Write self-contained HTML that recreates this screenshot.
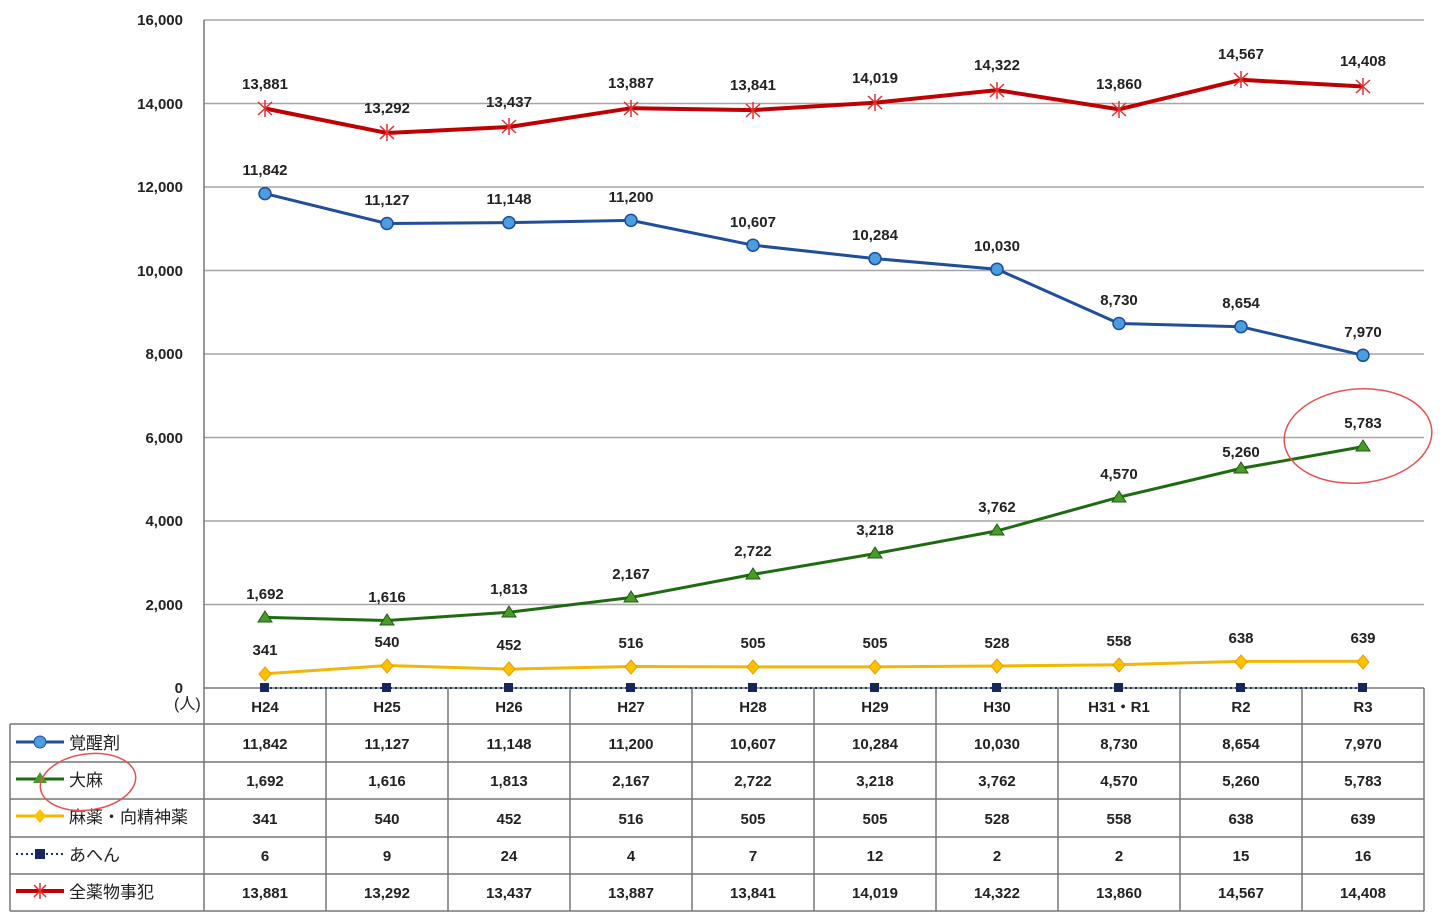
<!DOCTYPE html>
<html><head><meta charset="utf-8"><style>
body{margin:0;background:#fff}
svg text{font-family:"Liberation Sans","Noto Sans CJK JP",sans-serif;font-size:15px;fill:#222;font-weight:bold}
svg text.lg{font-weight:normal;font-size:17px}
</style></head><body>
<svg width="1440" height="919" viewBox="0 0 1440 919" xmlns="http://www.w3.org/2000/svg">
<g stroke="#a6a6a6" stroke-width="1.5">
<line x1="204" y1="20" x2="1424" y2="20"/>
<line x1="204" y1="103.5" x2="1424" y2="103.5"/>
<line x1="204" y1="187" x2="1424" y2="187"/>
<line x1="204" y1="270.5" x2="1424" y2="270.5"/>
<line x1="204" y1="354" x2="1424" y2="354"/>
<line x1="204" y1="437.5" x2="1424" y2="437.5"/>
<line x1="204" y1="521" x2="1424" y2="521"/>
<line x1="204" y1="604.5" x2="1424" y2="604.5"/>
</g>
<g stroke="#777" stroke-width="1.5">
<line x1="204" y1="20" x2="204" y2="911"/>
<line x1="204" y1="688" x2="1424" y2="688"/>
<line x1="326" y1="688" x2="326" y2="911"/><line x1="448" y1="688" x2="448" y2="911"/>
<line x1="570" y1="688" x2="570" y2="911"/><line x1="692" y1="688" x2="692" y2="911"/>
<line x1="814" y1="688" x2="814" y2="911"/><line x1="936" y1="688" x2="936" y2="911"/>
<line x1="1058" y1="688" x2="1058" y2="911"/><line x1="1180" y1="688" x2="1180" y2="911"/>
<line x1="1302" y1="688" x2="1302" y2="911"/><line x1="1424" y1="688" x2="1424" y2="911"/>
<line x1="10" y1="724" x2="1424" y2="724"/><line x1="10" y1="762" x2="1424" y2="762"/>
<line x1="10" y1="799" x2="1424" y2="799"/><line x1="10" y1="837" x2="1424" y2="837"/>
<line x1="10" y1="874" x2="1424" y2="874"/><line x1="10" y1="911" x2="1424" y2="911"/>
<line x1="10" y1="724" x2="10" y2="911"/>
</g>
<g text-anchor="end">
<text x="183" y="25">16,000</text><text x="183" y="109">14,000</text><text x="183" y="192">12,000</text>
<text x="183" y="276">10,000</text><text x="183" y="359">8,000</text><text x="183" y="443">6,000</text>
<text x="183" y="526">4,000</text><text x="183" y="610">2,000</text><text x="183" y="693">0</text>
</g>
<text x="174" y="709" class="lg" style="font-size:16px">(人)</text>
<polyline fill="none" stroke="#17375e" stroke-width="2" stroke-dasharray="2,3" points="265,688 387,688 509,688 631,688 753,688 875,688 997,688 1119,688 1241,688 1363,688"/>
<g fill="#17275e"><rect x="260" y="683" width="9" height="9"/><rect x="382" y="683" width="9" height="9"/><rect x="504" y="683" width="9" height="9"/><rect x="626" y="683" width="9" height="9"/><rect x="748" y="683" width="9" height="9"/><rect x="870" y="683" width="9" height="9"/><rect x="992" y="683" width="9" height="9"/><rect x="1114" y="683" width="9" height="9"/><rect x="1236" y="683" width="9" height="9"/><rect x="1358" y="683" width="9" height="9"/></g>
<polyline fill="none" stroke="#f2b705" stroke-width="3" points="265,673.8 387,665.5 509,669.1 631,666.5 753,666.9 875,666.9 997,666 1119,664.7 1241,661.4 1363,661.3"/>
<g fill="#ffc000" stroke="#e0a000"><path d="M265 667l6 7-6 7-6-7z"/><path d="M387 659l6 7-6 7-6-7z"/><path d="M509 662l6 7-6 7-6-7z"/><path d="M631 660l6 7-6 7-6-7z"/><path d="M753 660l6 7-6 7-6-7z"/><path d="M875 660l6 7-6 7-6-7z"/><path d="M997 659l6 7-6 7-6-7z"/><path d="M1119 658l6 7-6 7-6-7z"/><path d="M1241 655l6 7-6 7-6-7z"/><path d="M1363 655l6 7-6 7-6-7z"/></g>
<polyline fill="none" stroke="#1e6b12" stroke-width="3" points="265,617.4 387,620.5 509,612.3 631,597.5 753,574.4 875,553.6 997,530.9 1119,497.2 1241,468.4 1363,446.6"/>
<g fill="#4a9a2a" stroke="#1e5b12"><path d="M265 611l7 11h-14z"/><path d="M387 614l7 11h-14z"/><path d="M509 606l7 11h-14z"/><path d="M631 591l7 11h-14z"/><path d="M753 568l7 11h-14z"/><path d="M875 547l7 11h-14z"/><path d="M997 524l7 11h-14z"/><path d="M1119 491l7 11h-14z"/><path d="M1241 462l7 11h-14z"/><path d="M1363 440l7 11h-14z"/></g>
<polyline fill="none" stroke="#1f4e9a" stroke-width="3" points="265,193.6 387,223.5 509,222.6 631,220.4 753,245.2 875,258.6 997,269.2 1119,323.5 1241,326.7 1363,355.3"/>
<g fill="#4a9ee0" stroke="#1f4e9a" stroke-width="1.5"><circle cx="265" cy="193.6" r="6"/><circle cx="387" cy="223.5" r="6"/><circle cx="509" cy="222.6" r="6"/><circle cx="631" cy="220.4" r="6"/><circle cx="753" cy="245.2" r="6"/><circle cx="875" cy="258.6" r="6"/><circle cx="997" cy="269.2" r="6"/><circle cx="1119" cy="323.5" r="6"/><circle cx="1241" cy="326.7" r="6"/><circle cx="1363" cy="355.3" r="6"/></g>
<polyline fill="none" stroke="#c00000" stroke-width="4" points="265,108.5 387,133 509,127 631,108.2 753,110.1 875,102.7 997,90.1 1119,109.3 1241,79.8 1363,86.5"/>
<g stroke="#e03030" stroke-width="1.5" fill="none">
<path d="M258 102l14 13M272 102l-14 13M265 100v17"/><path d="M380 126l14 13M394 126l-14 13M387 124v17"/><path d="M502 120l14 13M516 120l-14 13M509 118v17"/><path d="M624 102l14 13M638 102l-14 13M631 100v17"/><path d="M746 104l14 13M760 104l-14 13M753 102v17"/><path d="M868 96l14 13M882 96l-14 13M875 94v17"/><path d="M990 84l14 13M1004 84l-14 13M997 82v17"/><path d="M1112 103l14 13M1126 103l-14 13M1119 101v17"/><path d="M1234 73l14 13M1248 73l-14 13M1241 71v17"/><path d="M1356 80l14 13M1370 80l-14 13M1363 78v17"/></g>
<g text-anchor="middle">
<text x="265" y="89">13,881</text><text x="387" y="113">13,292</text><text x="509" y="107">13,437</text><text x="631" y="88">13,887</text><text x="753" y="90">13,841</text><text x="875" y="83">14,019</text><text x="997" y="70">14,322</text><text x="1119" y="89">13,860</text><text x="1241" y="59">14,567</text><text x="1363" y="66">14,408</text>
<text x="265" y="175">11,842</text><text x="387" y="205">11,127</text><text x="509" y="204">11,148</text><text x="631" y="202">11,200</text><text x="753" y="227">10,607</text><text x="875" y="240">10,284</text><text x="997" y="251">10,030</text><text x="1119" y="305">8,730</text><text x="1241" y="308">8,654</text><text x="1363" y="337">7,970</text>
<text x="265" y="599">1,692</text><text x="387" y="602">1,616</text><text x="509" y="594">1,813</text><text x="631" y="579">2,167</text><text x="753" y="556">2,722</text><text x="875" y="535">3,218</text><text x="997" y="512">3,762</text><text x="1119" y="479">4,570</text><text x="1241" y="457">5,260</text><text x="1363" y="428">5,783</text>
<text x="265" y="655">341</text><text x="387" y="647">540</text><text x="509" y="650">452</text><text x="631" y="648">516</text><text x="753" y="648">505</text><text x="875" y="648">505</text><text x="997" y="648">528</text><text x="1119" y="646">558</text><text x="1241" y="643">638</text><text x="1363" y="643">639</text>
</g>
<g text-anchor="middle">
<text x="265" y="712">H24</text><text x="387" y="712">H25</text><text x="509" y="712">H26</text><text x="631" y="712">H27</text><text x="753" y="712">H28</text><text x="875" y="712">H29</text><text x="997" y="712">H30</text><text x="1119" y="712">H31・R1</text><text x="1241" y="712">R2</text><text x="1363" y="712">R3</text>
<text x="265" y="749">11,842</text><text x="387" y="749">11,127</text><text x="509" y="749">11,148</text><text x="631" y="749">11,200</text><text x="753" y="749">10,607</text><text x="875" y="749">10,284</text><text x="997" y="749">10,030</text><text x="1119" y="749">8,730</text><text x="1241" y="749">8,654</text><text x="1363" y="749">7,970</text>
<text x="265" y="786">1,692</text><text x="387" y="786">1,616</text><text x="509" y="786">1,813</text><text x="631" y="786">2,167</text><text x="753" y="786">2,722</text><text x="875" y="786">3,218</text><text x="997" y="786">3,762</text><text x="1119" y="786">4,570</text><text x="1241" y="786">5,260</text><text x="1363" y="786">5,783</text>
<text x="265" y="824">341</text><text x="387" y="824">540</text><text x="509" y="824">452</text><text x="631" y="824">516</text><text x="753" y="824">505</text><text x="875" y="824">505</text><text x="997" y="824">528</text><text x="1119" y="824">558</text><text x="1241" y="824">638</text><text x="1363" y="824">639</text>
<text x="265" y="861">6</text><text x="387" y="861">9</text><text x="509" y="861">24</text><text x="631" y="861">4</text><text x="753" y="861">7</text><text x="875" y="861">12</text><text x="997" y="861">2</text><text x="1119" y="861">2</text><text x="1241" y="861">15</text><text x="1363" y="861">16</text>
<text x="265" y="898">13,881</text><text x="387" y="898">13,292</text><text x="509" y="898">13,437</text><text x="631" y="898">13,887</text><text x="753" y="898">13,841</text><text x="875" y="898">14,019</text><text x="997" y="898">14,322</text><text x="1119" y="898">13,860</text><text x="1241" y="898">14,567</text><text x="1363" y="898">14,408</text>
</g>
<line x1="16" y1="742" x2="64" y2="742" stroke="#1f4e9a" stroke-width="3"/><circle cx="40" cy="742" r="6" fill="#4a9ee0" stroke="#1f4e9a"/>
<line x1="16" y1="779" x2="64" y2="779" stroke="#1e6b12" stroke-width="3"/><path d="M40 772l7 11h-14z" fill="#4a9a2a"/>
<line x1="16" y1="816" x2="64" y2="816" stroke="#f2b705" stroke-width="3"/><path d="M40 809l6 7-6 7-6-7z" fill="#ffc000"/>
<line x1="16" y1="854" x2="64" y2="854" stroke="#17375e" stroke-width="2" stroke-dasharray="2,3"/><rect x="35" y="849" width="10" height="10" fill="#17275e"/>
<line x1="16" y1="891" x2="64" y2="891" stroke="#c00000" stroke-width="4"/><path d="M34 885l12 12M46 885l-12 12M40 883v16" stroke="#e03030" stroke-width="1.5"/>
<text class="lg" x="69" y="749">覚醒剤</text><text class="lg" x="69" y="786">大麻</text><text class="lg" x="69" y="823">麻薬・向精神薬</text><text class="lg" x="69" y="861">あへん</text><text class="lg" x="69" y="898">全薬物事犯</text>
<ellipse cx="1358" cy="436" rx="74" ry="47" fill="none" stroke="#e85050" stroke-width="1.5" transform="rotate(-5 1358 436)"/>
<ellipse cx="88" cy="782" rx="48" ry="28" fill="none" stroke="#e85050" stroke-width="1.5" transform="rotate(-8 88 782)"/>
</svg>
</body></html>
